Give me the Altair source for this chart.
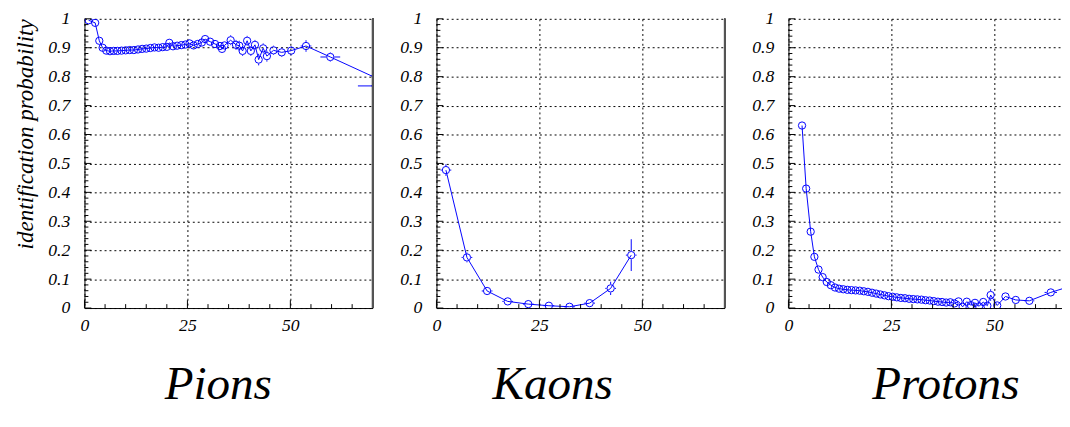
import altair as alt
import pandas as pd

FONT = "Liberation Serif"
BLUE = "#0000ff"

# ---------------- data ----------------
pion_p = [1.0, 2.6, 3.6, 4.4, 5.3, 6.2, 7.1, 8.0, 9.0, 10.0, 11.0, 12.0, 13.0, 14.0,
          15.0, 16.0, 17.0, 18.0, 19.0, 20.0, 20.6, 21.5, 22.5, 23.5, 24.5, 25.5, 26.5,
          27.5, 28.5, 29.3, 30.5, 31.7, 32.9, 33.4, 34.0, 35.5, 36.8, 37.6, 38.4, 39.5,
          40.4, 41.4, 42.3, 43.4, 44.3, 45.9, 47.9, 50.2, 53.8, 59.7, 75.0]
pion_eff = [0.995, 0.986, 0.924, 0.900, 0.890, 0.888, 0.889, 0.889, 0.890, 0.891, 0.892,
            0.892, 0.894, 0.896, 0.897, 0.899, 0.901, 0.900, 0.902, 0.903, 0.917, 0.905,
            0.907, 0.909, 0.911, 0.915, 0.908, 0.913, 0.918, 0.930, 0.921, 0.913, 0.906,
            0.896, 0.908, 0.926, 0.910, 0.907, 0.889, 0.924, 0.889, 0.910, 0.859, 0.898,
            0.871, 0.891, 0.884, 0.890, 0.906, 0.868, 0.768]
pion_perr = [0.5] * 48 + [1.3, 2.4, 8.6]
pion_err = ([0.005] * 20 + [0.012] * 15 + [0.017] * 7 + [0.020, 0.017, 0.019, 0.016,
            0.016, 0.016, 0.020, 0.016, 0.015])

kaon_p = [2.3, 7.4, 12.3, 17.3, 22.3, 27.3, 32.3, 37.2, 42.3, 47.3]
kaon_eff = [0.477, 0.175, 0.059, 0.023, 0.0136, 0.008, 0.0045, 0.017, 0.068, 0.183]
kaon_perr = [1.3] * 10
kaon_err = [0.020, 0.017, 0.010, 0.006, 0.005, 0.004, 0.004, 0.010, 0.023, 0.055]

proton_p = [3.3, 4.3, 5.4, 6.3, 7.3, 8.3, 9.3, 10.3, 11.3, 12.3, 13.3, 14.3, 15.3, 16.3,
            17.3, 18.3, 19.3, 20.3, 21.3, 22.3, 23.3, 24.3, 25.3, 26.3, 27.3, 28.3, 29.3,
            30.3, 31.3, 32.3, 33.3, 34.3, 35.3, 36.3, 37.3, 38.3, 39.3, 40.3, 41.3, 42.3,
            43.3, 44.3, 45.3, 46.3, 47.3, 48.3, 49.1, 50.7, 52.7, 55.2, 58.5, 63.7, 75.0]
proton_eff = [0.631, 0.413, 0.264, 0.177, 0.133, 0.107, 0.090, 0.079, 0.071, 0.067, 0.065,
              0.063, 0.062, 0.061, 0.060, 0.058, 0.056, 0.053, 0.050, 0.047, 0.044, 0.041,
              0.039, 0.037, 0.035, 0.034, 0.032, 0.031, 0.030, 0.029, 0.027, 0.026, 0.024,
              0.022, 0.021, 0.019, 0.020, 0.016, 0.023, 0.004, 0.022, 0.010, 0.018, 0.006,
              0.021, 0.008, 0.045, 0.009, 0.040, 0.028, 0.025, 0.054, 0.105]
proton_perr = [0.5] * 47 + [0.5, 0.8, 1.0, 1.2, 1.5, 5.0]
proton_err = [0.010, 0.008, 0.006, 0.005] + [0.003] * 42 + [0.020, 0.008, 0.008, 0.008,
              0.008, 0.010, 0.012]

x_major = [0, 25, 50]
x_minor = [5, 10, 15, 20, 30, 35, 40, 45, 55, 60, 65]
y_major = [round(i * 0.1, 1) for i in range(11)]
y_minor = [round(i * 0.02, 2) for i in range(51) if i % 5 != 0]

H = 295
PX_PER_UNIT = 4.2          # horizontal scale, pixels per GeV
R = 4.2                    # marker radius in pixels
RX = R / PX_PER_UNIT       # marker radius in data units (x)
RY = R / H                 # marker radius in data units (y)


def panel(name, p, eff, perr, err, width, xmax, ytitle, right_border, title_x):
    df = pd.DataFrame({"p": p, "eff": eff, "perr": perr, "err": err})
    xs = alt.Scale(domain=[0, xmax], nice=False, zero=False)
    ys = alt.Scale(domain=[0, 1], nice=False)
    xaxis = alt.Axis(values=x_major, format="d", grid=True, gridColor="black",
                     gridDash=[2, 3], gridOpacity=1, gridWidth=1, ticks=False,
                     domainColor="black", domainWidth=1, labelFont=FONT,
                     labelFontStyle="italic", labelFontSize=18, labelColor="black",
                     labelPadding=9, labelFlush=False, title=name, titleFont=FONT,
                     titleFontSize=48, titleFontStyle="italic", titleFontWeight="normal",
                     titleColor="black", titlePadding=27, titleX=title_x,
                     titleAlign="center")
    yargs = dict(values=y_major, format=".1~f", grid=True, gridColor="black",
                 gridDash=[2, 3], gridOpacity=1, gridWidth=1, ticks=False,
                 domainColor="black", domainWidth=1, labelFont=FONT,
                 labelFontStyle="italic", labelFontSize=18, labelColor="black",
                 labelPadding=15, labelFlush=False)
    if ytitle:
        yaxis = alt.Axis(title=ytitle, titleFont=FONT, titleFontSize=23.5,
                         titleFontStyle="italic", titleFontWeight="normal",
                         titleColor="black", titleAnchor="end", titlePadding=10, **yargs)
    else:
        yaxis = alt.Axis(title=None, **yargs)

    base = alt.Chart(df)
    X = lambda f: alt.X(f, scale=xs, axis=xaxis)
    Y = lambda f: alt.Y(f, scale=ys, axis=yaxis)

    line = base.mark_line(color=BLUE, strokeWidth=1, clip=True).encode(
        x=X("p:Q"), y=Y("eff:Q"))

    # error bars drawn only outside the open marker
    rule = dict(color=BLUE, strokeWidth=1, clip=True)
    xe = base.transform_filter(f"datum.perr > {RX}")
    xerr_l = xe.transform_calculate(a="datum.p - datum.perr", b=f"datum.p - {RX}").mark_rule(
        **rule).encode(x=X("a:Q"), x2="b:Q", y=Y("eff:Q"))
    xerr_r = xe.transform_calculate(a=f"datum.p + {RX}", b="datum.p + datum.perr").mark_rule(
        **rule).encode(x=X("a:Q"), x2="b:Q", y=Y("eff:Q"))
    ye = base.transform_filter(f"datum.err > {RY}")
    yerr_l = ye.transform_calculate(a="datum.eff - datum.err", b=f"datum.eff - {RY}").mark_rule(
        **rule).encode(x=X("p:Q"), y=Y("a:Q"), y2="b:Q")
    yerr_u = ye.transform_calculate(a=f"datum.eff + {RY}", b="datum.eff + datum.err").mark_rule(
        **rule).encode(x=X("p:Q"), y=Y("a:Q"), y2="b:Q")

    pts = base.mark_point(shape="circle", filled=False, size=3.14159 * R * R, color=BLUE,
                          strokeWidth=1, clip=True, opacity=1).encode(
        x=X("p:Q"), y=Y("eff:Q"))

    xmaj = alt.Chart(pd.DataFrame({"p": x_major})).mark_rule(color="black").encode(
        x=X("p:Q"), y=alt.value(H), y2=alt.value(H - 8))
    xmin = alt.Chart(pd.DataFrame({"p": x_minor})).mark_rule(color="black", clip=True).encode(
        x=X("p:Q"), y=alt.value(H), y2=alt.value(H - 4))
    ymaj = alt.Chart(pd.DataFrame({"eff": y_major})).mark_rule(color="black").encode(
        y=Y("eff:Q"), x=alt.value(0), x2=alt.value(7))
    ymin = alt.Chart(pd.DataFrame({"eff": y_minor})).mark_rule(color="black").encode(
        y=Y("eff:Q"), x=alt.value(0), x2=alt.value(4))

    layers = [line, xerr_l, xerr_r, yerr_l, yerr_u, pts, xmaj, xmin, ymaj, ymin]
    if right_border:
        layers.append(base.mark_rule(color="#555555", strokeWidth=1.5).encode(
            x=alt.value(width), y=alt.value(0), y2=alt.value(H)))
    return alt.layer(*layers).properties(width=width, height=H)


p1 = panel("Pions", pion_p, pion_eff, pion_perr, pion_err, 294, 70,
           "identification probability", True, 136)
p2 = panel("Kaons", kaon_p, kaon_eff, kaon_perr, kaon_err, 294, 70, None, True, 118)
p3 = panel("Protons", proton_p, proton_eff, proton_perr, proton_err, 279,
           279 / PX_PER_UNIT, None, False, 160)

chart = alt.hconcat(p1, p2, p3, spacing=65, bounds="flush").properties(
    padding={"left": 6, "top": -2, "right": 0, "bottom": 0}
).configure_view(stroke=None)

chart.save("out.html", embed_options={"renderer": "svg", "actions": False})
